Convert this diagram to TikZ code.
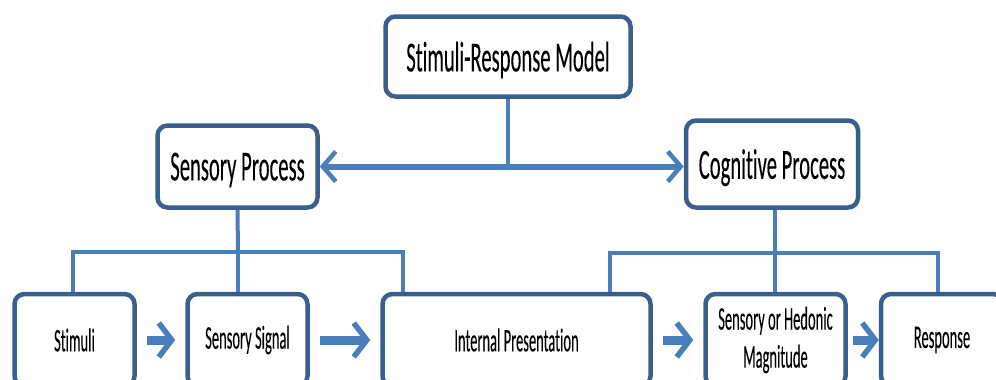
\documentclass[tikz,border=0pt]{standalone}
\usepackage{fontspec}
\setmainfont{Carlito}[FakeStretch=0.48,FakeBold=0.15,RawFeature=-liga]
\newfontfamily\smallfnt{Carlito}[FakeStretch=0.44,FakeBold=0.12,RawFeature=-liga]
\usetikzlibrary{arrows.meta}
\definecolor{boxline}{HTML}{3B5E8C}
\definecolor{conn}{HTML}{4A7EBB}
\begin{document}
\begin{tikzpicture}[x=1pt,y=-1pt,
  box/.style={draw=boxline, line width=4.5pt, rounded corners=10pt, fill=white, inner sep=0pt, align=center},
  bigbox/.style={box, font=\fontsize{43}{48}\selectfont, text depth=0pt},
  smallbox/.style={box, font=\smallfnt\fontsize{33}{38}\selectfont, minimum height=92pt},
  tree/.style={draw=conn, line width=4pt},
  bigarrow/.style={draw=conn, line width=6pt, -{Straight Barb[length=13pt,width=30pt,line width=4.5pt]}},
  smallarrow/.style={draw=conn, line width=9pt, shorten <=10pt, shorten >=10pt, -{Straight Barb[length=13pt,width=34pt,line width=5.5pt]}}
]
\useasboundingbox (0,0) rectangle (996,380);
\clip (0,0) rectangle (996,380);
\fill[white] (0,0) rectangle (996,380);

\node[bigbox, minimum width=245pt, minimum height=80pt] (top) at (508,56.5) {Stimuli-Response Model};
\node[bigbox, minimum width=160pt, minimum height=82pt] (sp) at (237.5,166.5) {Sensory Process};
\node[bigbox, minimum width=172pt, minimum height=87pt] (cp) at (772,164) {Cognitive Process};

\node[smallbox, minimum width=120pt] (stim) at (74.5,340) {Stimuli};
\node[smallbox, minimum width=120pt] (ss) at (247.5,340) {Sensory Signal};
\node[smallbox, minimum width=268pt] (ip) at (516.5,340) {Internal Presentation};
\node[smallbox, minimum width=140pt] (sh) at (775.5,340) {Sensory or Hedonic\\Magnitude};
\node[smallbox, minimum width=122pt] (resp) at (942,340) {Response};

% top connector
\coordinate (tj) at (top.south |- sp.east);
\draw[tree] (top.south) -- (tj);
\draw[bigarrow] (tj) -- (sp.east);
\draw[bigarrow] (tj) -- (tj -| cp.west);

% sensory bracket
\coordinate (sj) at (238,252);
\coordinate (s1) at (73,252);
\coordinate (s3) at (403,252);
\draw[tree] (sp.south) -- (sj);
\draw[tree] (s1 |- stim.north) -- (s1) -- (s3) -- (s3 |- ip.north);
\draw[tree] (sj) -- (sj |- ss.north);

% cognitive bracket
\coordinate (cj) at (775,253);
\coordinate (c1) at (610,253);
\coordinate (c3) at (938,253);
\draw[tree] (cj |- cp.south) -- (cj);
\draw[tree] (c1 |- ip.north) -- (c1) -- (c3) -- (c3 |- resp.north);
\draw[tree] (cj) -- (cj |- sh.north);

% small arrows
\draw[smallarrow] (stim.east) -- (ss.west);
\draw[smallarrow] (ss.east) -- (ip.west);
\draw[smallarrow] (ip.east) -- (sh.west);
\draw[smallarrow, shorten <=5pt, shorten >=0pt] (sh.east) -- (resp.west);
\end{tikzpicture}
\end{document}
